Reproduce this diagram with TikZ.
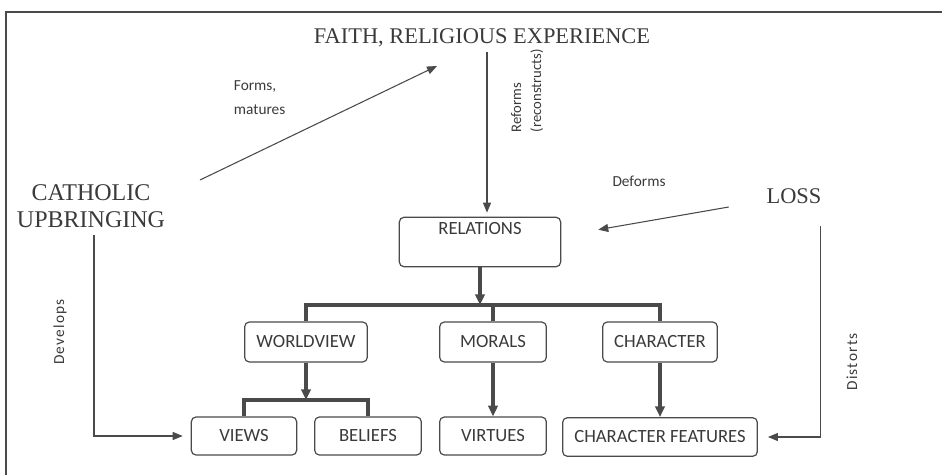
\documentclass[tikz,border=0pt]{standalone}
\usepackage{fontspec}
\setmainfont{Liberation Serif}
\newfontfamily\calib{Carlito}
\newfontfamily\calibsp[LetterSpace=8]{Carlito}
\usetikzlibrary{arrows.meta,positioning,calc}
\definecolor{ink}{HTML}{3A3A3A}
\definecolor{lncol}{HTML}{4A4A4A}

\begin{document}
\begin{tikzpicture}[
    x=0.75pt, y=-0.75pt,
    every node/.style={text=ink, inner sep=2pt},
    head/.style={font=\fontsize{16.8}{19}\selectfont},
    box/.style={draw=lncol, line width=0.9pt, rounded corners=3.5pt, inner sep=4pt,
                font=\calib\fontsize{14}{16}\selectfont, minimum height=30pt},
    lbl/.style={font=\calib\fontsize{11.5}{13}\selectfont, align=left},
    vlbl/.style={font=\calibsp\fontsize{11.5}{15}\selectfont, rotate=90, align=left},
    arr/.style={-{Triangle[length=7.5pt,width=6pt]}, draw=lncol, line width=0.8pt},
    thk/.style={draw=lncol, line width=2.6pt},
    tip/.style={-{Triangle[length=8pt,width=7pt]}},
  ]
  \useasboundingbox (0,0) rectangle (942,475);
  \draw[lncol, line width=1.2pt] (942,12) -- (6,12) -- (6,475);

  % sources
  \node[head] (faith) at (482,38) {FAITH, RELIGIOUS EXPERIENCE};
  \node[head, font=\fontsize{18}{20}\selectfont, align=center] (cath) at (91,206) {CATHOLIC\\UPBRINGING};
  \node[head] (loss) at (794,196) {LOSS};

  % boxes
  \node[box, minimum width=121pt, text depth=20pt] (rel) at (480,242) {RELATIONS};
  \node[box, minimum width=92pt] (wv)  at (306,342) {WORLDVIEW};
  \node[box, minimum width=80pt] (mor) at (493,342) {MORALS};
  \node[box, minimum width=86pt] (chr) at (660,342) {CHARACTER};
  \node[box, minimum width=79pt, minimum height=28.5pt] (views) at (244,436) {VIEWS};
  \node[box, minimum width=80pt, minimum height=28.5pt] (bel)   at (368,436) {BELIEFS};
  \node[box, minimum width=80pt, minimum height=28.5pt] (vir)   at (493,436) {VIRTUES};
  \node[box, minimum width=146pt, minimum height=29pt]  (cf)    at (660,437) {CHARACTER FEATURES};

  % labels
  \node[lbl, anchor=west] (fm) at (231,98) {Forms,\\[5pt]matures};
  \node[lbl, rotate=90, font=\calib\fontsize{11}{15}\selectfont, anchor=west] (rf) at (527,135) {Reforms\\(reconstructs)};
  \node[lbl] (df) at (639,181) {Deforms};
  \node[vlbl] (dv) at (60,332) {Develops};
  \node[vlbl] (ds) at (852,362) {Distorts};

  % thin connectors
  \coordinate (fmS) at (200,180);
  \coordinate (fmE) at (437,66);
  \draw[arr] (fmS) -- (fmE);
  \draw[arr] ($(faith.south)+(5,2)$) -- ($(rel.north)+(7,-4)$);
  \draw[arr] ($(loss.west)+(-35,11)$) -- ($(rel.north east)+(37,13)$);
  \draw[arr] ($(cath.south)+(3,5)$) |- ($(views.west)+(-8,0)$);
  \draw[arr] ($(loss.south east)+(-4,20)$) |- ($(cf.east)+(10,0)$);

  % tree
  \coordinate (br1) at (480,305);
  \coordinate (br2) at (306,400);
  \draw[thk, tip] (rel.south) -- (br1);
  \draw[thk] (wv.north) |- (br1) -| (chr.north);
  \draw[thk] (mor.north) -- (mor.north |- br1);
  \draw[thk, tip] (wv.south) -- (br2);
  \draw[thk] (views.north) |- (br2) -| (bel.north);
  \draw[thk, tip] (mor.south) -- (vir.north);
  \draw[thk, tip] (chr.south) -- (cf.north);
\end{tikzpicture}
\end{document}
